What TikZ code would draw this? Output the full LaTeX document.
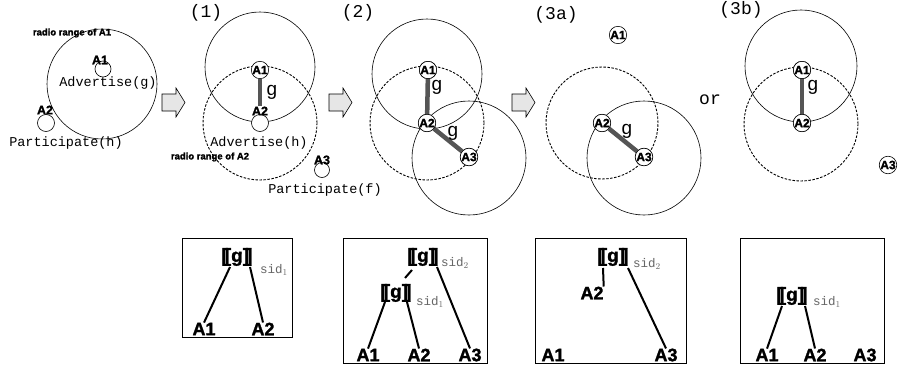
\documentclass[tikz,border=0pt]{standalone}
\usepackage{fontspec}
\setmainfont{Liberation Sans}
\newfontfamily\cour{Liberation Mono}
\newfontfamily\heavy{Liberation Sans}[BoldFeatures={FakeBold=1.5}]
\definecolor{linkgray}{HTML}{555555}
\definecolor{arrowfill}{HTML}{E6E6E6}
\definecolor{sidgray}{HTML}{666666}
\tikzset{
  agent/.style={circle,draw,fill=white,inner sep=0pt,minimum size=16pt,line width=0.6pt,
    font=\heavy\bfseries\fontsize{12}{12}\selectfont},
  emptydot/.style={circle,draw,fill=white,inner sep=0pt,minimum size=17pt,line width=0.6pt},
  alab/.style={inner sep=0pt,font=\heavy\bfseries\fontsize{12.5}{12.5}\selectfont},
  mono/.style={inner sep=0pt,font=\cour\fontsize{13.5}{13.5}\selectfont},
  panel/.style={inner sep=0pt,font=\cour\fontsize{18}{18}\selectfont},
  rlab/.style={inner sep=0pt,font=\heavy\bfseries\fontsize{9.5}{9.5}\selectfont},
  glab/.style={inner sep=0pt,font=\fontsize{19}{19}\selectfont},
  rrange/.style={line width=0.6pt},
  drange/.style={line width=0.9pt,dash pattern=on 2.5pt off 1.5pt},
  link/.style={line width=4.5pt,draw=linkgray},
  bigarrow/.style={draw,line width=0.6pt,fill=arrowfill},
  tbox/.style={draw,line width=0.9pt},
  tnode/.style={inner sep=0pt,font=\heavy\bfseries\fontsize{18}{18}\selectfont},
  grp/.style={inner sep=0pt,font=\heavy\bfseries\fontsize{19}{19}\selectfont},
  sid/.style={inner sep=0pt,text=sidgray,font=\cour\fontsize{12.5}{12.5}\selectfont},
  tline/.style={line width=2pt},
}
\newcommand{\grpg}{[\kern-3pt[g]\kern-3pt]}
\newcommand{\bigarr}[1]{\draw[bigarrow] (#1,94) -- (#1+14,94) -- (#1+14,88) -- (#1+23,102.5) -- (#1+14,117) -- (#1+14,111) -- (#1,111) -- cycle;}
\begin{document}
\begin{tikzpicture}[x=1pt,y=-1pt]
\useasboundingbox (0,0) rectangle (900,372);
\fill[white] (0,0) rectangle (900,372);

% ---------- panel 0 ----------
\draw[rrange] (102,84) circle[radius=55pt];
\node[rlab] (r0) at (72,33) {radio range of A1};
\node[emptydot,minimum size=16pt] (p0a1c) at (103,69) {};
\node[alab] (p0a1) at (100,60) {A1};
\node[mono] (adv0) at (108,83) {Advertise(g)};
\node[emptydot] (p0a2c) at (46,123) {};
\node[alab] (p0a2) at (45,110) {A2};
\node[mono] (part0) at (66,143) {Participate(h)};

\bigarr{162}

% ---------- panel 1 ----------
\node[panel] (t1) at (206,13) {(1)};
\draw[rrange] (260,67) circle[radius=55pt];
\draw[drange] (260,123) circle[radius=57pt];
\node[emptydot] (p1a2c) at (260,123) {};
\node[alab] (p1a2) at (260,111) {A2};
\node[agent] (p1a1) at (260,70) {A1};
\draw[link] (p1a1) -- (p1a2);
\node[glab] (g1) at (272,92) {g};
\node[mono] (adv1) at (259,143) {Advertise(h)};
\node[rlab] (r1) at (210,157) {radio range of A2};
\node[emptydot,minimum size=15pt] (p1a3c) at (322,170) {};
\node[alab] (p1a3) at (322,160) {A3};
\node[mono] (part1) at (325,190) {Participate(f)};

\bigarr{329}

% ---------- panel 2 ----------
\node[panel] (t2) at (358,13) {(2)};
\draw[rrange] (427,74) circle[radius=55pt];
\draw[drange] (427,123) circle[radius=57pt];
\draw[rrange] (469,158) circle[radius=57pt];
\node[agent] (p2a1) at (428,70) {A1};
\node[agent] (p2a2) at (427,123) {A2};
\node[agent] (p2a3) at (469,157) {A3};
\draw[link] (p2a1) -- (p2a2);
\draw[link] (p2a2) -- (p2a3);
\node[agent] at (p2a1) {A1};
\node[agent] at (p2a2) {A2};
\node[agent] at (p2a3) {A3};
\node[glab] (g2a) at (437,87) {g};
\node[glab] (g2b) at (453,133) {g};

\bigarr{512}

% ---------- panel 3a ----------
\node[panel] (t3a) at (556,15) {(3a)};
\draw[drange] (602,123) circle[radius=56pt];
\draw[rrange] (644,158) circle[radius=57pt];
\node[agent] (p3a1) at (618,35) {A1};
\node[agent] (p3a2) at (602,123) {A2};
\node[agent] (p3a3) at (644,157) {A3};
\draw[link] (p3a2) -- (p3a3);
\node[agent] at (p3a2) {A2};
\node[agent] at (p3a3) {A3};
\node[glab] (g3a) at (627,131) {g};

% ---------- panel 3b ----------
\node[panel] (t3b) at (741,10) {(3b)};
\node[panel] (orw) at (710,100) {or};
\draw[rrange] (801,66) circle[radius=56pt];
\draw[drange] (801,124) circle[radius=57pt];
\node[agent] (p3b1) at (802,70) {A1};
\node[agent] (p3b2) at (802,123) {A2};
\node[agent] (p3b3) at (888,165) {A3};
\draw[link] (p3b1) -- (p3b2);
\node[agent] at (p3b1) {A1};
\node[agent] at (p3b2) {A2};
\node[glab] (g3b) at (813,87) {g};

% ---------- tree boxes ----------
% box 1
\draw[tbox] (182,238) rectangle (292,337);
\node[grp] (b1g) at (237,257) {\grpg};
\node[sid] (b1s) at (274,270) {sid$_1$};
\node[tnode] (b1a1) at (204,329) {A1};
\node[tnode] (b1a2) at (263,329) {A2};
\draw[tline] (230,267) -- (b1a1.north);
\draw[tline] (250,267) -- (b1a2.north);

% box 2
\draw[tbox] (343,238) rectangle (487,363);
\node[grp] (b2g) at (423,257) {\grpg};
\node[sid] (b2s) at (455,263) {sid$_2$};
\node[grp] (b2h) at (396,293) {\grpg};
\node[sid] (b2t) at (430,302) {sid$_1$};
\node[tnode] (b2a1) at (368,355) {A1};
\node[tnode] (b2a2) at (419,355) {A2};
\node[tnode] (b2a3) at (470,355) {A3};
\draw[tline] (412,270) -- (405,278);
\draw[tline] (385,302) -- (b2a1.north);
\draw[tline] (407,302) -- (b2a2.north);
\draw[tline] (437,267) -- (b2a3.north);

% box 3
\draw[tbox] (535,238) rectangle (686,363);
\node[grp] (b3g) at (613,257) {\grpg};
\node[sid] (b3s) at (647,264) {sid$_2$};
\node[tnode] (b3a2) at (592,293) {A2};
\node[tnode] (b3a1) at (553,355) {A1};
\node[tnode] (b3a3) at (666,355) {A3};
\draw[tline] (603,268) -- (b3a2.north east);
\draw[tline] (628,268) -- (b3a3.north);

% box 4
\draw[tbox] (740,238) rectangle (884,363);
\node[grp] (b4g) at (792,296) {\grpg};
\node[sid] (b4s) at (827,302) {sid$_1$};
\node[tnode] (b4a1) at (767,355) {A1};
\node[tnode] (b4a2) at (815,355) {A2};
\node[tnode] (b4a3) at (865,355) {A3};
\draw[tline] (782,306) -- (b4a1.north);
\draw[tline] (805,306) -- (b4a2.north);
\end{tikzpicture}
\end{document}
